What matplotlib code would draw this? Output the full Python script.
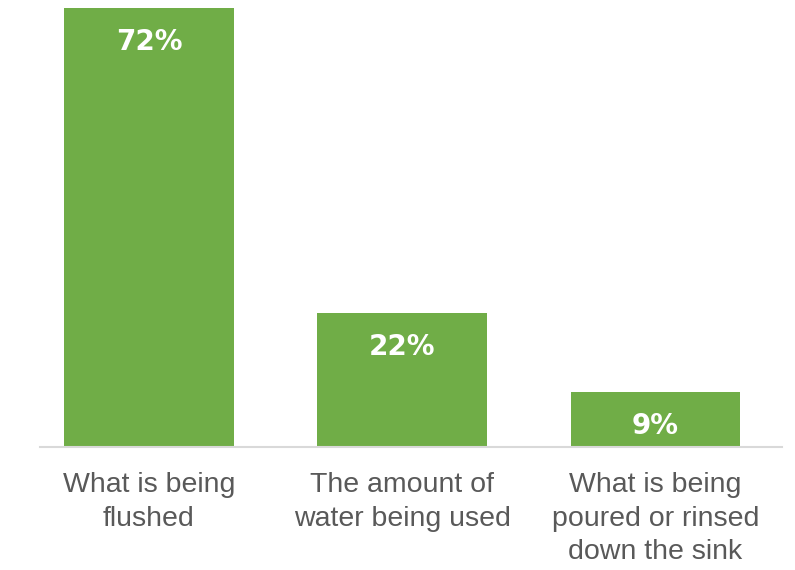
import matplotlib
matplotlib.use("Agg")
import matplotlib.pyplot as plt

categories = ["What is being\nflushed", "The amount of\nwater being used", "What is being\npoured or rinsed\ndown the sink"]
values = [72, 22, 9]

fig = plt.figure(figsize=(7.95, 5.7), dpi=100)
ax = fig.add_axes([40 / 795, 123 / 570, 742 / 795, 439 / 570])

x = range(len(values))
bars = ax.bar(x, values, width=0.67, color="#70AD47")

for b, v in zip(bars, values):
    ax.text(b.get_x() + b.get_width() / 2, v - 5.6, f"{v}%", ha="center", va="center",
            color="white", fontsize=20, fontweight="bold", family="DejaVu Sans")

ax.set_xlim(-0.43, 2.5)
ax.set_ylim(0, 72)
ax.set_xticks(list(x))
ax.set_xticklabels(categories, fontsize=20.5, color="#595959", family="Liberation Sans", linespacing=1.38)
ax.tick_params(axis="x", length=0, pad=18)
ax.set_yticks([])
for s in ["top", "right", "left"]:
    ax.spines[s].set_visible(False)
ax.spines["bottom"].set_color("#D9D9D9")
ax.spines["bottom"].set_linewidth(1.5)

fig.savefig("out.png", dpi=100)
